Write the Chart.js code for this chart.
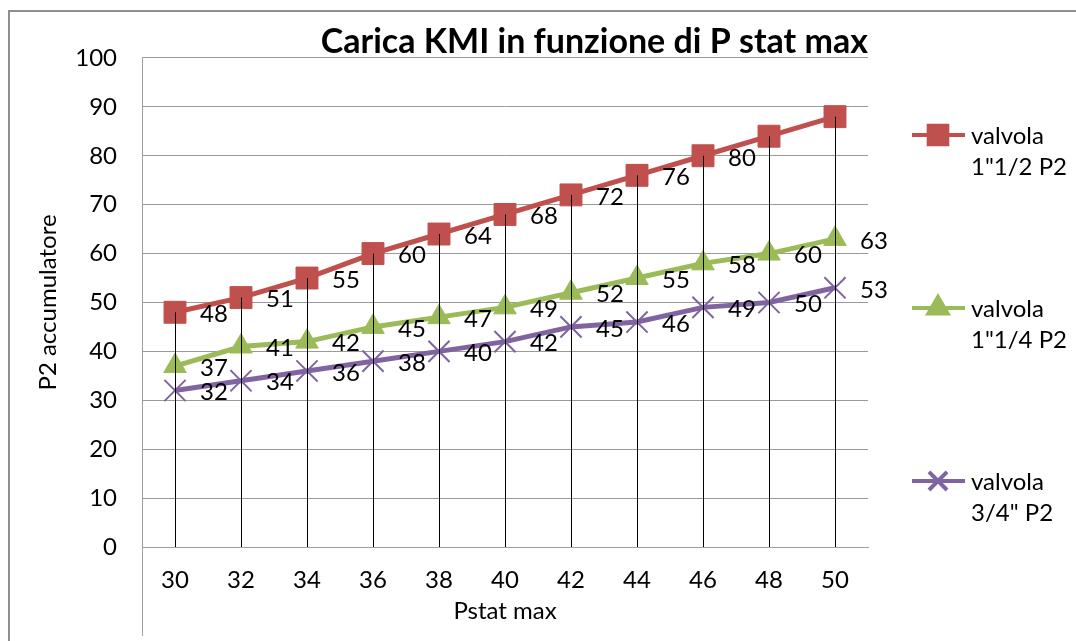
<!DOCTYPE html>
<html>
<head>
<meta charset="utf-8">
<script src="https://cdn.jsdelivr.net/npm/chart.js"></script>
<style>
  html, body { margin: 0; padding: 0; background: #fff; overflow: hidden; }
  #frame { position: absolute; left: 8px; top: 10px; width: 1200px; height: 800px; border: 2px solid #8e8e8e; }
  #wrap { position: absolute; left: 0; top: 0; width: 1076px; height: 641px; }
</style>
</head>
<body>
<div id="frame"></div>
<div id="wrap"><canvas id="myChart" width="1076" height="641"></canvas></div>
<script>
const categories = ["30", "32", "34", "36", "38", "40", "42", "44", "46", "48", "50"];
const valvola112 = [48, 51, 55, 60, 64, 68, 72, 76, 80, 84, 88];
const valvola114 = [37, 41, 42, 45, 47, 49, 52, 55, 58, 60, 63];
const valvola34 = [32, 34, 36, 38, 40, 42, 45, 46, 49, 50, 53];
// the last two labels of the top series are not shown in the original
const labelsShown = [9, 11, 11];

const FONT = "Lato, 'Open Sans', sans-serif";

// vertical drop lines + data labels, drawn over the series like Excel
const dropLines = {
  id: "dropLines",
  afterDatasetsDraw(chart) {
    const { ctx, chartArea, scales } = chart;
    const x = scales.x, y = scales.y;
    ctx.save();
    ctx.strokeStyle = "#000";
    ctx.lineWidth = 1;
    categories.forEach((c, i) => {
      const top = Math.max(...chart.data.datasets.map(d => d.data[i]));
      const px = Math.round(x.getPixelForValue(i)) + 0.5;
      ctx.beginPath();
      ctx.moveTo(px, y.getPixelForValue(top));
      ctx.lineTo(px, chartArea.bottom);
      ctx.stroke();
    });
    // axis line continuing below the plot
    ctx.strokeStyle = "#a0a0a0";
    ctx.beginPath();
    ctx.moveTo(chartArea.left + 0.5, chartArea.bottom);
    ctx.lineTo(chartArea.left + 0.5, chartArea.bottom + 89);
    ctx.stroke();

    ctx.fillStyle = "#000";
    ctx.font = "24px " + FONT;
    ctx.textAlign = "left";
    ctx.textBaseline = "middle";
    chart.data.datasets.forEach((d, di) => {
      d.data.forEach((v, i) => {
        if (i >= labelsShown[di]) return;
        ctx.fillText(String(v), x.getPixelForValue(i) + 25, y.getPixelForValue(v) + 2);
      });
    });
    ctx.restore();
  },
  afterDraw(chart) {
    const { ctx, chartArea } = chart;
    const lx = chartArea.right + 44;
    ctx.save();
    chart.data.datasets.forEach((d, i) => {
      const ly = chartArea.top + 77 + i * 173;
      ctx.strokeStyle = d.borderColor;
      ctx.lineWidth = 4;
      ctx.beginPath();
      ctx.moveTo(lx, ly);
      ctx.lineTo(lx + 53, ly);
      ctx.stroke();
      ctx.fillStyle = d.pointBackgroundColor;
      ctx.strokeStyle = d.pointBorderColor;
      Chart.helpers.drawPoint(ctx, {
        pointStyle: d.pointStyle,
        radius: d.pointRadius * 0.85,
        rotation: 0,
        borderWidth: d.pointBorderWidth
      }, lx + 26, ly);
      ctx.fillStyle = "#000";
      ctx.font = "24px " + FONT;
      ctx.textAlign = "left";
      ctx.textBaseline = "middle";
      d.legendLines.forEach((t, k) => ctx.fillText(t, lx + 59, ly + 1 + k * 31));
    });
    ctx.restore();
  }
};

new Chart(document.getElementById("myChart"), {
  type: "line",
  data: {
    labels: categories,
    datasets: [
      {
        label: 'valvola 1"1/2 P2',
        legendLines: ["valvola", '1"1/2 P2'],
        data: valvola112,
        borderColor: "#C0504D",
        borderWidth: 5,
        pointStyle: "rect",
        pointRadius: 15.5,
        pointBackgroundColor: "#C0504D",
        pointBorderColor: "#C0504D",
        pointBorderWidth: 1,
      },
      {
        label: 'valvola 1"1/4 P2',
        legendLines: ["valvola", '1"1/4 P2'],
        data: valvola114,
        borderColor: "#9BBB59",
        borderWidth: 5,
        pointStyle: "triangle",
        pointRadius: 13,
        pointBackgroundColor: "#9BBB59",
        pointBorderColor: "#9BBB59",
        pointBorderWidth: 1,
      },
      {
        label: 'valvola 3/4" P2',
        legendLines: ["valvola", '3/4" P2'],
        data: valvola34,
        borderColor: "#8064A2",
        borderWidth: 5,
        pointStyle: "crossRot",
        pointRadius: 15,
        pointBackgroundColor: "#8064A2",
        pointBorderColor: "#8064A2",
        pointBorderWidth: 2,
      },
    ],
  },
  options: {
    responsive: false,
    animation: false,
    events: [],
    layout: { padding: { left: 20, right: 208, top: 0, bottom: 0 } },
    plugins: {
      legend: { display: false },
      tooltip: { enabled: false },
      title: {
        display: true,
        text: "Carica KMI in funzione di P stat max",
        fullSize: false,
        align: "end",
        color: "#000",
        font: { family: FONT, size: 34, weight: "bold", lineHeight: 0.94 },
        padding: { top: 26, bottom: 0 },
      },
    },
    scales: {
      x: {
        offset: true,
        grid: { display: false, drawTicks: false },
        border: { color: "#a0a0a0" },
        ticks: { color: "#000", padding: 19, font: { family: FONT, size: 24 } },
        title: {
          display: true,
          text: "Pstat max",
          color: "#000",
          font: { family: FONT, size: 24 },
          padding: { top: 0, bottom: 15 },
        },
        afterFit(s) { s.height = 94; },
      },
      y: {
        min: 0,
        max: 100,
        ticks: {
          stepSize: 5,
          color: "#000",
          padding: 25,
          font: { family: FONT, size: 24 },
          callback: v => (v % 10 === 0 ? v : ""),
        },
        grid: {
          drawTicks: false,
          color: c => (c.tick.value % 10 === 0 ? "#9a9a9a" : "#bdbdbd"),
        },
        border: { color: "#a0a0a0" },
        title: {
          display: true,
          text: "P2 accumulatore",
          color: "#000",
          font: { family: FONT, size: 24 },
          padding: { top: 14, bottom: 0 },
        },
        afterFit(s) { s.width = 122; },
      },
    },
  },
  plugins: [dropLines],
});
</script>
</body>
</html>
